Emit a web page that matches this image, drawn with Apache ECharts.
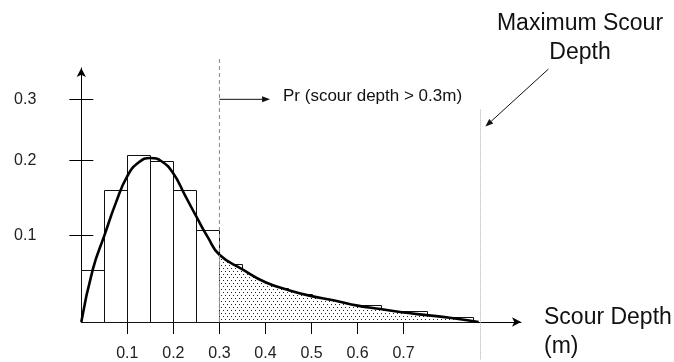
<!DOCTYPE html>
<html>
<head>
<meta charset="utf-8">
<script src="https://cdn.jsdelivr.net/npm/echarts@6/dist/echarts.min.js"></script>
<style>
  html, body { margin: 0; padding: 0; background: #fff; }
  #chart { width: 674px; height: 362px; }
</style>
</head>
<body>
<div id="chart"></div>
<script>
// histogram bins (scour depth, m) and relative frequency
const binStart = [0, 0.05, 0.1, 0.15, 0.2, 0.25, 0.3, 0.35, 0.4, 0.45, 0.5, 0.55, 0.65, 0.75];
const binEnd = [0.05, 0.1, 0.15, 0.2, 0.25, 0.3, 0.35, 0.4, 0.45, 0.5, 0.55, 0.65, 0.75, 0.85];
const binHeight = [0.060, 0.153, 0.193, 0.186, 0.153, 0.107, 0.067, 0.047, 0.039, 0.032, 0.026, 0.020, 0.013, 0.006];

// fitted density curve
const curveX = [0, 0.025, 0.05, 0.075, 0.1, 0.125, 0.15, 0.175, 0.2, 0.225, 0.25, 0.275, 0.3, 0.35, 0.4, 0.45, 0.5, 0.55, 0.6, 0.65, 0.7, 0.75, 0.8, 0.863];
const curveY = [0, 0.061, 0.100, 0.138, 0.169, 0.185, 0.190, 0.186, 0.172, 0.147, 0.122, 0.098, 0.078, 0.061, 0.046, 0.037, 0.030, 0.025, 0.019, 0.015, 0.011, 0.008, 0.005, 0];

const threshold = 0.3;
const maxScour = 0.867;

const xTickValues = [0.1, 0.2, 0.3, 0.4, 0.5, 0.6, 0.7];
const xTickLabels = ['0.1', '0.2', '0.3', '0.4', '0.5', '0.6', '0.7'];
// the y ticks in the drawing are not evenly spaced
const yTickAt = [0.1, 0.187, 0.258];
const yTickLabels = ['0.1', '0.2', '0.3'];

// annotation arrows, in data units: [from, to]
const prArrow = [[threshold, 0.258], [0.41, 0.258]];
const maxArrow = [[1.0146, 0.2931], [0.8776, 0.2264]];

const font = '"Liberation Sans", Arial, sans-serif';

const chart = echarts.init(document.getElementById('chart'), null, { renderer: 'canvas' });

// dotted fill for the exceedance area
const pat = document.createElement('canvas');
pat.width = 4;
pat.height = 6;
const pctx = pat.getContext('2d');
pctx.fillStyle = '#fff';
pctx.fillRect(0, 0, 4, 6);
pctx.fillStyle = '#222';
pctx.fillRect(1, 1, 1, 1);
pctx.fillRect(3, 4, 1, 1);

const bars = binStart.map((s, i) => [s, binEnd[i], binHeight[i]]);
const curve = curveX.map((x, i) => [x, curveY[i]]);
const tail = curve.filter(p => p[0] >= threshold);

const yMin = 0, yMax = 0.2943;

const yAxisBase = {
  type: 'value',
  min: yMin,
  max: yMax,
  position: 'left',
  splitLine: { show: false }
};

const option = {
  animation: false,
  backgroundColor: '#fff',
  grid: { left: 81.3, right: 153, top: 68, bottom: 38 },
  xAxis: {
    type: 'value',
    min: 0,
    max: 0.955,
    splitLine: { show: false },
    axisLine: {
      lineStyle: { color: '#000', width: 1 },
      symbol: ['none', 'arrow'],
      symbolSize: [7, 9]
    },
    axisTick: {
      customValues: xTickValues,
      length: 12,
      lineStyle: { color: '#000', width: 1 }
    },
    axisLabel: {
      customValues: xTickValues,
      margin: 24,
      fontFamily: font,
      fontSize: 16,
      color: '#222',
      formatter: v => xTickLabels[xTickValues.findIndex(t => Math.abs(t - v) < 1e-6)] || ''
    }
  },
  yAxis: [
    Object.assign({}, yAxisBase, {
      axisLine: {
        show: true,
        lineStyle: { color: '#000', width: 1 },
        symbol: ['none', 'arrow'],
        symbolSize: [7, 9]
      },
      axisTick: {
        show: true,
        customValues: yTickAt,
        length: 12,
        lineStyle: { color: '#000', width: 1 }
      },
      axisLabel: {
        customValues: yTickAt,
        margin: 45,
        fontFamily: font,
        fontSize: 16,
        color: '#222',
        formatter: v => yTickLabels[yTickAt.findIndex(t => Math.abs(t - v) < 1e-6)] || ''
      }
    }),
    Object.assign({}, yAxisBase, {
      axisLine: { show: false },
      axisTick: {
        show: true,
        inside: true,
        customValues: yTickAt,
        length: 12,
        lineStyle: { color: '#000', width: 1 }
      },
      axisLabel: { show: false }
    })
  ],
  series: [
    {
      name: 'histogram',
      type: 'custom',
      z: 1,
      data: bars,
      encode: { x: [0, 1], y: 2 },
      renderItem: (params, api) => {
        const p0 = api.coord([api.value(0), api.value(2)]);
        const p1 = api.coord([api.value(1), 0]);
        return {
          type: 'rect',
          shape: {
            x: Math.round(p0[0]) + 0.5,
            y: Math.round(p0[1]) + 0.5,
            width: Math.round(p1[0]) - Math.round(p0[0]),
            height: Math.round(p1[1]) - Math.round(p0[1])
          },
          style: { fill: '#fff', stroke: '#111', lineWidth: 1 }
        };
      }
    },
    {
      name: 'exceedance',
      type: 'line',
      z: 2,
      data: tail,
      smooth: 0.5,
      showSymbol: false,
      lineStyle: { width: 0 },
      areaStyle: { color: { image: pat, repeat: 'repeat' }, opacity: 1 },
      silent: true
    },
    {
      name: 'density',
      type: 'line',
      z: 3,
      data: curve,
      smooth: 0.5,
      showSymbol: false,
      lineStyle: { color: '#000', width: 2.6 },
      silent: true
    },
    {
      name: 'threshold',
      type: 'line',
      z: 4,
      clip: false,
      data: [[threshold, 0], [threshold, 0.306]],
      showSymbol: false,
      lineStyle: { color: '#888', width: 1, type: [4, 3] },
      silent: true
    },
    {
      name: 'max scour',
      type: 'line',
      z: 4,
      clip: false,
      data: [[maxScour, 0.246], [maxScour, -0.044]],
      showSymbol: false,
      lineStyle: { color: '#aaa', width: 1, type: [1, 1] },
      silent: true
    }
  ],
  graphic: [
    {
      type: 'text',
      left: 283,
      top: 88,
      style: {
        text: 'Pr (scour depth > 0.3m)',
        fontFamily: font,
        fontSize: 17,
        fill: '#111'
      }
    },
    {
      type: 'text',
      x: 580,
      y: 38,
      style: {
        text: 'Maximum Scour\nDepth',
        fontFamily: font,
        fontSize: 23,
        lineHeight: 29,
        align: 'center',
        verticalAlign: 'middle',
        fill: '#111'
      }
    },
    {
      type: 'text',
      x: 544,
      y: 332.5,
      style: {
        text: 'Scour Depth\n(m)',
        fontFamily: font,
        fontSize: 23,
        lineHeight: 29,
        align: 'left',
        verticalAlign: 'middle',
        fill: '#111'
      }
    }
  ]
};

chart.setOption(option);

// arrows are placed through the grid's own scale
function arrow(from, to, id) {
  const a = chart.convertToPixel({ gridIndex: 0 }, from);
  const b = chart.convertToPixel({ gridIndex: 0 }, to);
  const ang = Math.atan2(b[1] - a[1], b[0] - a[0]);
  const len = 8, half = 3;
  const bx = b[0] - len * Math.cos(ang), by = b[1] - len * Math.sin(ang);
  return [
    {
      id: id + '-shaft',
      type: 'line',
      shape: { x1: a[0], y1: a[1], x2: bx, y2: by },
      style: { stroke: '#111', lineWidth: 1 },
      silent: true
    },
    {
      id: id + '-head',
      type: 'polygon',
      shape: {
        points: [
          [b[0], b[1]],
          [bx + half * Math.sin(ang), by - half * Math.cos(ang)],
          [bx - half * Math.sin(ang), by + half * Math.cos(ang)]
        ]
      },
      style: { fill: '#111' },
      silent: true
    }
  ];
}

chart.setOption({
  graphic: option.graphic.concat(arrow(prArrow[0], prArrow[1], 'pr'), arrow(maxArrow[0], maxArrow[1], 'max'))
});
</script>
</body>
</html>
